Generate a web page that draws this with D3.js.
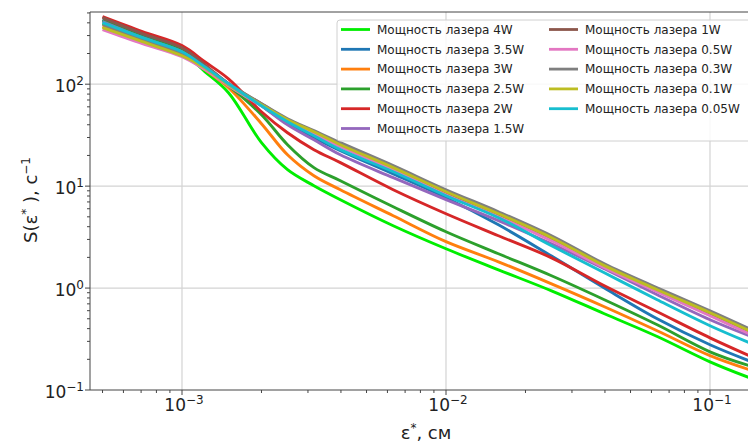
<!DOCTYPE html>
<html><head><meta charset="utf-8">
<script src="https://cdn.jsdelivr.net/npm/d3@7"></script>
<style>body{margin:0;background:#fff}svg{display:block}text{font-family:"DejaVu Sans",sans-serif;fill:#222}</style>
</head><body><svg id="c" width="748" height="443"></svg>
<script>
// ---- data ----
const epsValues = [0.0005, 0.000708, 0.001, 0.00122, 0.0015, 0.002, 0.00251, 0.00316, 0.00398, 0.00631, 0.01, 0.0158, 0.0251, 0.0398, 0.0631, 0.1, 0.141];
const seriesNames = ["Мощность лазера 4W","Мощность лазера 3.5W","Мощность лазера 3W","Мощность лазера 2.5W","Мощность лазера 2W","Мощность лазера 1.5W","Мощность лазера 1W","Мощность лазера 0.5W","Мощность лазера 0.3W","Мощность лазера 0.1W","Мощность лазера 0.05W"];
const seriesColors = ["#00ee00","#1f77b4","#ff7f0e","#2ca02c","#d62728","#9467bd","#8c564b","#e377c2","#7f7f7f","#bcbd22","#17becf"];
const s4W   = [393, 280, 204, 133, 82.5, 26.7, 14.5, 10.1, 7.36, 4.09, 2.43, 1.51, 0.94, 0.560, 0.335, 0.189, 0.132];
const s3_5W = [430, 299, 218, 152, 101, 61.5, 41.0, 29.9, 22.3, 13.2, 7.7, 4.17, 2.06, 1.0, 0.50, 0.278, 0.193];
const s3W   = [367, 267, 195, 139, 92.4, 41.0, 20.3, 12.65, 9.22, 5.12, 2.85, 1.81, 1.10, 0.656, 0.381, 0.217, 0.158];
const s2_5W = [420, 292, 213, 145, 96.7, 50.2, 25.5, 15.2, 11.3, 6.28, 3.57, 2.17, 1.32, 0.768, 0.436, 0.237, 0.173];
const s2W   = [460, 328, 239, 166, 113, 53.7, 33.4, 22.8, 17.0, 9.22, 5.36, 3.26, 1.98, 1.053, 0.586, 0.325, 0.217];
const s1_5W = [411, 286, 208, 148, 101, 61.5, 40.0, 28.5, 20.3, 12.1, 7.36, 4.58, 2.72, 1.547, 0.860, 0.489, 0.340];
const s1W   = [449, 313, 228, 155, 101, 64.4, 44.8, 33.4, 24.9, 15.2, 8.61, 5.24, 2.98, 1.66, 0.963, 0.560, 0.373];
const s0_5W = [343, 250, 186, 139, 96.7, 61.5, 43.9, 32.7, 24.4, 14.5, 8.23, 5.01, 2.91, 1.582, 0.920, 0.535, 0.356];
const s0_3W = [384, 273, 199, 148, 101, 64.4, 45.9, 35.0, 26.7, 15.9, 9.22, 5.61, 3.26, 1.73, 1.007, 0.599, 0.399];
const s0_1W = [359, 261, 190, 145, 98.9, 62.9, 44.8, 34.2, 25.5, 15.2, 8.81, 5.36, 3.12, 1.66, 0.963, 0.573, 0.381];
const s0_05W= [401, 286, 208, 148, 101, 61.5, 42.9, 31.2, 22.8, 13.85, 8.05, 4.90, 2.60, 1.413, 0.768, 0.427, 0.291];
const seriesValues = [s4W, s3_5W, s3W, s2_5W, s2W, s1_5W, s1W, s0_5W, s0_3W, s0_1W, s0_05W];
const xMajorTicks = [1e-3, 1e-2, 1e-1];
const xTickExponents = ["−3", "−2", "−1"];
const yMajorTicks = [1e-1, 1, 10, 100];
const yTickExponents = ["−1", "0", "1", "2"];

// ---- layout ----
const svg = d3.select("#c");
const L = 90, T = 12, R = 748, B = 390;
const x = d3.scaleLog().domain([1e-3, 1e-1]).range([182, 710]);
const y = d3.scaleLog().domain([1e-1, 1e2]).range([390, 84.2]);
const xMin = x.invert(L), xMax = x.invert(R + 20);
const yMin = y.invert(B), yMax = y.invert(T);

svg.append("defs").append("clipPath").attr("id", "clip")
  .append("rect").attr("x", L).attr("y", T).attr("width", R + 20 - L).attr("height", B - T);

// grid
const grid = svg.append("g").attr("stroke", "#d3d3d3").attr("stroke-width", 1.2);
xMajorTicks.forEach(t => grid.append("line").attr("x1", x(t)).attr("x2", x(t)).attr("y1", T).attr("y2", B));
yMajorTicks.filter(t => t > yMin * 1.01).forEach(t => grid.append("line").attr("x1", L).attr("x2", R + 20).attr("y1", y(t)).attr("y2", y(t)));

// curves
const line = d3.line().x(d => x(d[0])).y(d => y(d[1])).curve(d3.curveCatmullRom.alpha(0.5));
const plot = svg.append("g").attr("clip-path", "url(#clip)");
seriesValues.forEach((vals, i) => {
  plot.append("path")
    .datum(epsValues.map((e, k) => [e, vals[k]]))
    .attr("d", line).attr("fill", "none")
    .attr("stroke", seriesColors[i]).attr("stroke-width", 2.9)
    .attr("stroke-linejoin", "round").attr("stroke-linecap", "butt");
});

// spines
const sp = svg.append("g").attr("stroke", "#444").attr("stroke-width", 1);
sp.append("line").attr("x1", L).attr("x2", L).attr("y1", T).attr("y2", B);
sp.append("line").attr("x1", L).attr("x2", R + 20).attr("y1", B).attr("y2", B);
sp.append("line").attr("x1", L).attr("x2", R + 20).attr("y1", T).attr("y2", T);

// ticks
const tk = svg.append("g").attr("stroke", "#444").attr("stroke-width", 1);
function minorTicks(lo, hi) {
  const out = [];
  for (let e = Math.floor(Math.log10(lo)); e <= Math.ceil(Math.log10(hi)); e++)
    for (let m = 2; m <= 9; m++) { const v = m * Math.pow(10, e); if (v > lo && v < hi) out.push(v); }
  return out;
}
xMajorTicks.forEach(t => tk.append("line").attr("x1", x(t)).attr("x2", x(t)).attr("y1", B).attr("y2", B + 5));
minorTicks(xMin, xMax).forEach(t => tk.append("line").attr("x1", x(t)).attr("x2", x(t)).attr("y1", B).attr("y2", B + 3));
yMajorTicks.forEach(t => tk.append("line").attr("x1", L - 5).attr("x2", L).attr("y1", y(t)).attr("y2", y(t)));
minorTicks(yMin, yMax).forEach(t => tk.append("line").attr("x1", L - 3).attr("x2", L).attr("y1", y(t)).attr("y2", y(t)));

// tick labels
xMajorTicks.forEach((t, i) => {
  const tx = svg.append("text").attr("x", x(t) + 2).attr("y", 411).attr("text-anchor", "middle").style("font-size", "17px");
  tx.append("tspan").text("10");
  tx.append("tspan").attr("dy", -7).style("font-size", "12px").text(xTickExponents[i]);
});
yMajorTicks.forEach((t, i) => {
  const tx = svg.append("text").attr("x", 84).attr("y", y(t) + 8).attr("text-anchor", "end").style("font-size", "17px");
  tx.append("tspan").text("10");
  tx.append("tspan").attr("dy", -7).style("font-size", "12px").text(yTickExponents[i]);
});

// axis labels
const xl = svg.append("text").attr("x", 426).attr("y", 439).attr("text-anchor", "middle").style("font-size", "18px");
xl.append("tspan").text("ε");
xl.append("tspan").attr("dy", -7).style("font-size", "12px").text("*");
xl.append("tspan").attr("dy", 7).text(", см");
const yl = svg.append("text").attr("transform", "translate(37,200) rotate(-90)").attr("text-anchor", "middle").style("font-size", "18px");
yl.append("tspan").text("S(ε");
yl.append("tspan").attr("dy", -7).style("font-size", "12px").text("*");
yl.append("tspan").attr("dy", 7).text(" ), c");
yl.append("tspan").attr("dy", -7).style("font-size", "12px").text("−1");

// legend
const lg = svg.append("g");
lg.append("rect").attr("x", 337).attr("y", 20).attr("width", 420).attr("height", 121).attr("rx", 3)
  .attr("fill", "#fff").attr("fill-opacity", 0.85).attr("stroke", "#d0d0d0").attr("stroke-width", 1);
seriesNames.forEach((n, i) => {
  const col = i < 6 ? 0 : 1, row = i < 6 ? i : i - 6;
  const lx = col === 0 ? 341 : 549, ty = 29.5 + row * 19.8;
  lg.append("line").attr("x1", lx).attr("x2", lx + 29).attr("y1", ty).attr("y2", ty)
    .attr("stroke", seriesColors[i]).attr("stroke-width", 2.8);
  lg.append("text").attr("x", lx + 36).attr("y", ty + 4.3).style("font-size", "12px").text(n);
});
</script></body></html>
